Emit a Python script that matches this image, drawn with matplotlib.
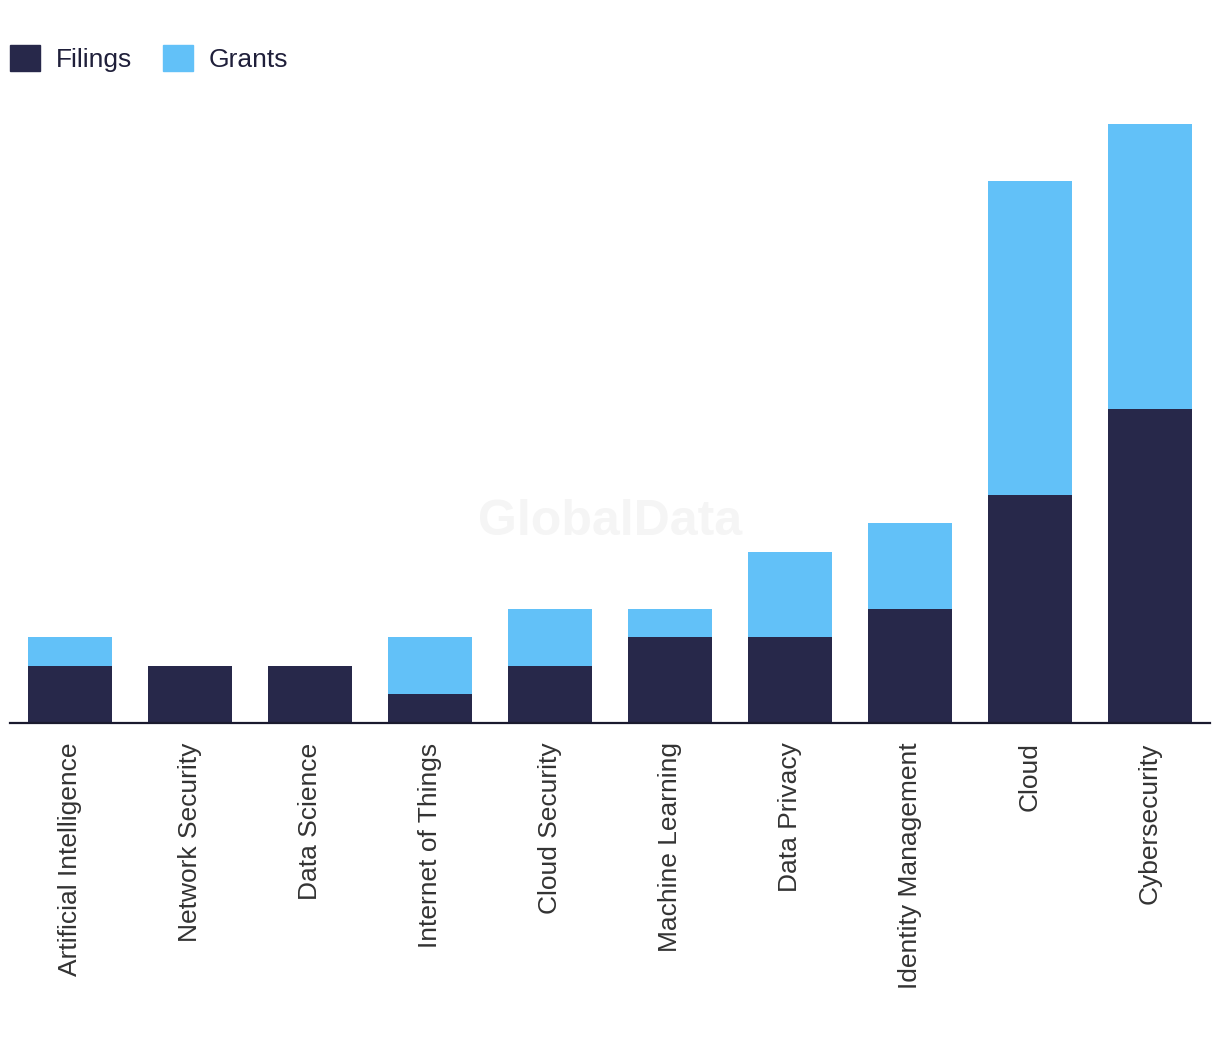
import matplotlib
matplotlib.use("Agg")
import matplotlib.pyplot as plt
from matplotlib.patches import Patch
import numpy as np

categories = ["Artificial Intelligence", "Network Security", "Data Science",
              "Internet of Things", "Cloud Security", "Machine Learning",
              "Data Privacy", "Identity Management", "Cloud", "Cybersecurity"]
filings = [2, 2, 2, 1, 2, 3, 3, 4, 8, 11]
grants = [1, 0, 0, 2, 2, 1, 3, 3, 11, 10]

c_fil = "#27284a"
c_gra = "#62c1f8"

plt.rcParams['font.family'] = ['Liberation Sans', 'DejaVu Sans']

fig = plt.figure(figsize=(12.2, 10.38), dpi=100)
ax = fig.add_axes([10/1220, 315/1038, 1200/1220, (723-124)/1038])

x = np.arange(len(categories))
ax.bar(x, filings, width=0.7, color=c_fil, zorder=2)
ax.bar(x, grants, width=0.7, bottom=filings, color=c_gra, zorder=2)

ax.set_xlim(-0.5, len(categories) - 0.5)
ax.set_ylim(0, 21)
ax.set_xticks(x)
ax.set_xticklabels(categories, rotation=90, fontsize=19, color="#333333")
ax.tick_params(axis='x', length=0, pad=14)
ax.set_yticks([])
for s in ["top", "right", "left"]:
    ax.spines[s].set_visible(False)
ax.spines["bottom"].set_color("#1a1a2e")
ax.spines["bottom"].set_linewidth(1.6)
ax.spines["bottom"].set_zorder(3)

fig.text(610/1220, 1 - 522/1038, "GlobalData", ha="center", va="center",
         fontsize=36, fontweight="bold", color="#f5f5f5", zorder=0)

handles = [Patch(color=c_fil, label="Filings"), Patch(color=c_gra, label="Grants")]
fig.legend(handles=handles, loc="upper left", bbox_to_anchor=(10/1220, 1 - 45/1038),
           ncol=2, frameon=False, fontsize=19, handlelength=1.12, handleheight=1.12,
           handletextpad=0.6, columnspacing=1.2, borderpad=0, borderaxespad=0,
           labelcolor="#1f1f3a")

fig.savefig("out.png", dpi=100, facecolor="white")
